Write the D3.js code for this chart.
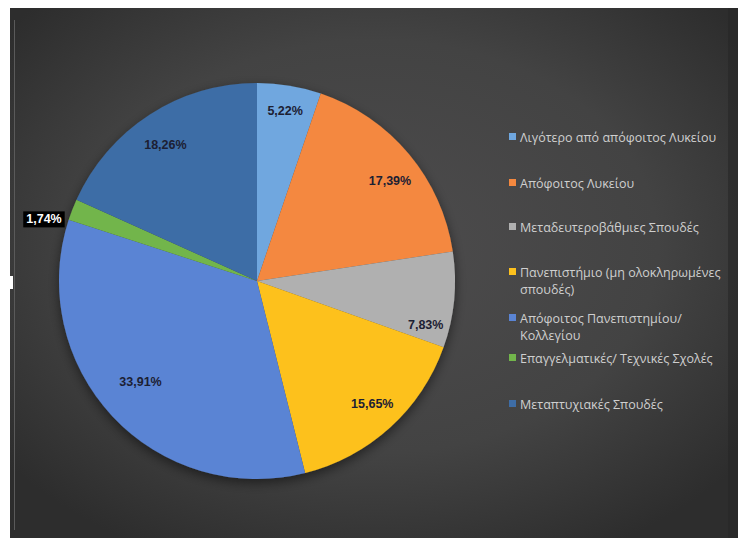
<!DOCTYPE html>
<html><head><meta charset="utf-8">
<script src="https://cdn.jsdelivr.net/npm/d3@7"></script>
<style>html,body{margin:0;padding:0;background:#fff;}svg{display:block;}</style>
</head><body>
<svg id="chart" width="738" height="538"></svg>
<script>
const categories = [
  "Λιγότερο από απόφοιτος Λυκείου",
  "Απόφοιτος Λυκείου",
  "Μεταδευτεροβάθμιες Σπουδές",
  "Πανεπιστήμιο (μη ολοκληρωμένες σπουδές)",
  "Απόφοιτος Πανεπιστημίου/ Κολλεγίου",
  "Επαγγελματικές/ Τεχνικές Σχολές",
  "Μεταπτυχιακές Σπουδές"
];
const legendLines = [
  ["Λιγότερο από απόφοιτος Λυκείου"],
  ["Απόφοιτος Λυκείου"],
  ["Μεταδευτεροβάθμιες Σπουδές"],
  ["Πανεπιστήμιο (μη ολοκληρωμένες", "σπουδές)"],
  ["Απόφοιτος Πανεπιστημίου/", "Κολλεγίου"],
  ["Επαγγελματικές/ Τεχνικές Σχολές"],
  ["Μεταπτυχιακές Σπουδές"]
];
const values = [5.22, 17.39, 7.83, 15.65, 33.91, 1.74, 18.26];
const labels = ["5,22%", "17,39%", "7,83%", "15,65%", "33,91%", "1,74%", "18,26%"];

const colors = ["#6fa7df", "#f4883f", "#b0b0b0", "#fdc11d", "#5a84d4", "#72b54b", "#3e6da6"];
// layout tweaks for label placement (angle nudge in degrees, radius factor)
const labelAngleNudge = [0, 3, 9, -1, 2, -5, -1];
const labelRadius = [0.87, 0.84, 0.88, 0.85, 0.78, 1.12, 0.83];
const legendY = [137, 183, 227, 272, 318, 358, 404];

const svg = d3.select("#chart");
const defs = svg.append("defs");
const bg = defs.append("radialGradient").attr("id", "bg")
  .attr("cx", "50%").attr("cy", "45%").attr("r", "65%");
bg.append("stop").attr("offset", "0%").attr("stop-color", "#4d4c4d");
bg.append("stop").attr("offset", "60%").attr("stop-color", "#434343");
bg.append("stop").attr("offset", "100%").attr("stop-color", "#2d2d2d");
const sh = defs.append("filter").attr("id", "shadow").attr("x", "-20%").attr("y", "-20%").attr("width", "140%").attr("height", "140%");
sh.append("feGaussianBlur").attr("in", "SourceAlpha").attr("stdDeviation", 6);
sh.append("feOffset").attr("dx", 0).attr("dy", 4).attr("result", "b");
sh.append("feComponentTransfer").append("feFuncA").attr("type", "linear").attr("slope", 0.5);
const m = sh.append("feMerge");
m.append("feMergeNode");
m.append("feMergeNode").attr("in", "SourceGraphic");

svg.append("rect").attr("x", 10).attr("y", 8).attr("width", 728).attr("height", 530).attr("fill", "url(#bg)");
svg.append("rect").attr("x", 728).attr("y", 8).attr("width", 10).attr("height", 530).attr("fill", "#262626").attr("opacity", 0.6);
svg.append("line").attr("x1", 14.5).attr("x2", 14.5).attr("y1", 20).attr("y2", 530).attr("stroke", "#5a5a5a").attr("stroke-width", 1);
svg.append("rect").attr("x", 10).attr("y", 276).attr("width", 3).attr("height", 13).attr("fill", "#ffffff");

const cx = 257, cy = 281, R = 198;
const pie = d3.pie().sort(null).value(d => d);
const arcs = pie(values);
const arc = d3.arc().innerRadius(0).outerRadius(R);

const g = svg.append("g").attr("transform", `translate(${cx},${cy})`);
const pg = g.append("g").attr("filter", "url(#shadow)");
pg.selectAll("path").data(arcs).join("path")
  .attr("d", arc)
  .attr("fill", (d, i) => colors[i]);

arcs.forEach((d, i) => {
  const a = (d.startAngle + d.endAngle) / 2 + labelAngleNudge[i] * Math.PI / 180;
  const r = R * labelRadius[i];
  const x = r * Math.sin(a), y = -r * Math.cos(a);
  const t = g.append("text")
    .attr("x", x).attr("y", y)
    .attr("text-anchor", "middle").attr("dominant-baseline", "central")
    .attr("font-family", "'Liberation Sans', Arial, sans-serif")
    .attr("font-weight", "bold").attr("font-size", 12.5)
    .attr("fill", i === 5 ? "#ffffff" : "#1c2033")
    .text(labels[i]);
  if (i === 5) {
    const bb = t.node().getBBox();
    g.insert("rect", "text")
      .attr("x", bb.x - 3).attr("y", bb.y - 1)
      .attr("width", bb.width + 6).attr("height", bb.height + 2)
      .attr("fill", "#000");
  }
});
g.selectAll("text").raise();

const lg = svg.append("g");
legendLines.forEach((lines, i) => {
  const y = legendY[i];
  lg.append("rect").attr("x", 509).attr("y", y - 4).attr("width", 7).attr("height", 7).attr("fill", colors[i]);
  lines.forEach((ln, j) => {
    lg.append("text").attr("x", 520).attr("y", y + j * 17)
      .attr("dominant-baseline", "central")
      .attr("font-family", "'Open Sans', sans-serif").attr("font-size", 12.5)
      .attr("fill", "#cfcfcf")
      .text(ln);
  });
});
</script>
</body></html>
